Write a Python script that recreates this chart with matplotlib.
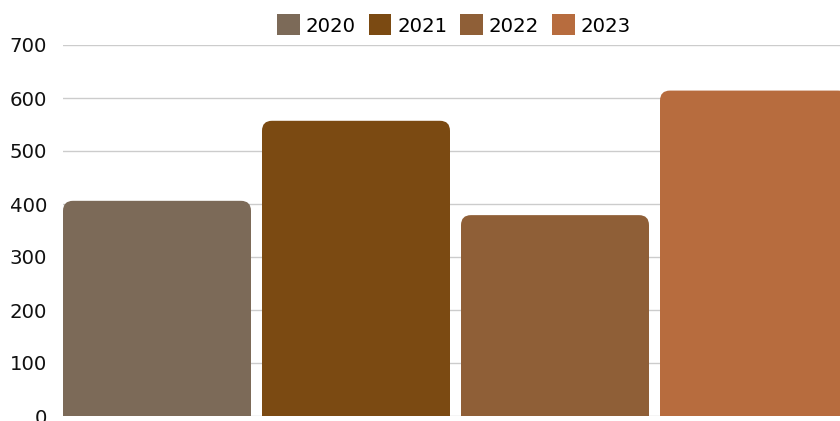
import matplotlib
matplotlib.use('Agg')
import matplotlib.pyplot as plt
from matplotlib.patches import FancyBboxPatch, Patch

years = ['2020', '2021', '2022', '2023']
values = [406, 557, 379, 614]
colors = ['#7c6a58', '#7b4a12', '#8f5f37', '#b76c3e']

plt.rcParams['font.family'] = ['DejaVu Sans']

fig = plt.figure(figsize=(8.4, 4.21), dpi=100)
ax = fig.add_axes([63 / 840, 5 / 421, 1 - 63 / 840, (416 - 45) / 421])

bw = 188 / 199
x = list(range(len(years)))
bars = ax.bar(x, values, width=bw, color=colors)

# swap plain bars for rounded ones, bottom pushed below 0 so only the top is rounded
r = 0.05                 # ~10 px across
asp = (10 / 53 * 100) / r  # same ~10 px up
for b, c in zip(bars, colors):
    x0, w, h = b.get_x(), b.get_width(), b.get_height()
    b.remove()
    p = FancyBboxPatch((x0, -40), w, h + 40,
                       boxstyle='round,pad=0,rounding_size=%g' % r,
                       mutation_aspect=asp,
                       facecolor=c, edgecolor='none', zorder=2)
    ax.add_patch(p)

ax.set_ylim(0, 700)
ax.set_xlim(-bw / 2, -bw / 2 + 777 / 199)
ax.set_yticks(range(0, 701, 100))
ax.set_xticks([])
ax.grid(axis='y', color='#cccccc', linewidth=1, zorder=0)
ax.set_axisbelow(True)
for s in ax.spines.values():
    s.set_visible(False)
ax.tick_params(axis='y', length=0, pad=11.5, labelsize=14.2, labelcolor='#111111')

handles = [Patch(facecolor=c, edgecolor='none') for c in colors]
fig.legend(handles, years, loc='center', bbox_to_anchor=(454 / 840, 1 - 25 / 421),
           ncol=4, frameon=False, fontsize=14.2, handlelength=1.15, handleheight=1.25,
           handletextpad=0.3, columnspacing=0.65, borderpad=0)

fig.savefig('out.png', dpi=100)
